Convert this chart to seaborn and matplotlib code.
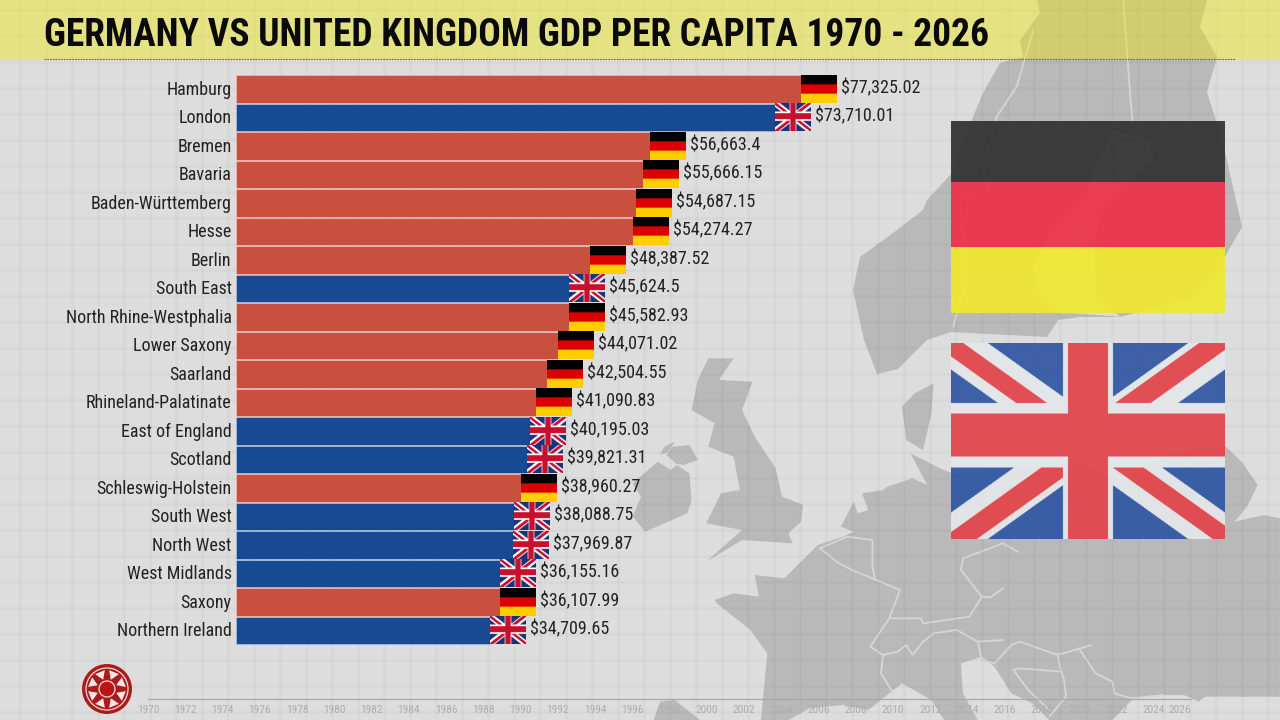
import numpy as np
import pandas as pd
import matplotlib
matplotlib.use("Agg")
import matplotlib.pyplot as plt
from matplotlib.patches import Polygon, Rectangle, Circle
from matplotlib.transforms import ScaledTranslation
import seaborn as sns
import logging

regions = ["Hamburg", "London", "Bremen", "Bavaria", "Baden-Württemberg", "Hesse", "Berlin",
           "South East", "North Rhine-Westphalia", "Lower Saxony", "Saarland",
           "Rhineland-Palatinate", "East of England", "Scotland", "Schleswig-Holstein",
           "South West", "North West", "West Midlands", "Saxony", "Northern Ireland"]
gdp = [77325.02, 73710.01, 56663.4, 55666.15, 54687.15, 54274.27, 48387.52,
       45624.5, 45582.93, 44071.02, 42504.55, 41090.83, 40195.03, 39821.31,
       38960.27, 38088.75, 37969.87, 36155.16, 36107.99, 34709.65]
country = ["DE", "UK", "DE", "DE", "DE", "DE", "DE", "UK", "DE", "DE", "DE", "DE",
           "UK", "UK", "DE", "UK", "UK", "UK", "DE", "UK"]
timeline_years = list(range(1970, 2027, 2))
title = "GERMANY VS UNITED KINGDOM GDP PER CAPITA 1970 - 2026"

sns.set_theme(style="white")
NARROW = ["Roboto Condensed", "Liberation Sans Narrow", "Roboto", "DejaVu Sans"]
plt.rcParams["font.family"] = NARROW
logging.getLogger("matplotlib.font_manager").setLevel(logging.ERROR)

W, H = 1280, 720
fig = plt.figure(figsize=(W / 100, H / 100), dpi=100, facecolor="#dddddd")


def ax_px(x0, y0, x1, y1, **kw):
    return fig.add_axes([x0 / W, 1 - y1 / H, (x1 - x0) / W, (y1 - y0) / H], **kw)


# ---------- backdrop: map, grid, banner, large flags, logo (pixel space) ----------
bg = ax_px(0, 0, W, H, zorder=0)
bg.set_xlim(0, W)
bg.set_ylim(H, 0)
bg.axis("off")
MAP = "#b9b9b9"
BACK = "#dddddd"


def z5(pts):
    return [(620 + x / 2.376, 340 + y / 3) for x, y in pts]


def z6(pts):
    return [(860 + x / 3, 50 + y / 3) for x, y in pts]


map_shapes = [
    z5([(210, 55), (270, 55), (235, 120), (315, 125), (290, 210), (320, 290), (370, 385), (385, 470),
        (435, 495), (430, 545), (400, 580), (410, 610), (290, 600), (205, 665), (290, 570), (205, 550),
        (240, 460), (285, 450), (270, 350), (210, 320), (225, 250), (170, 210), (185, 120)]),
    z5([(90, 365), (120, 390), (135, 375), (165, 400), (170, 480), (160, 520), (60, 575), (30, 530),
        (50, 470), (30, 430)]),
    z5([(125, 320), (165, 315), (185, 360), (150, 375), (135, 372), (110, 345)]),
    z5([(95, 345), (105, 320), (130, 305), (115, 335)]),
    z5([(225, 780), (270, 760), (330, 770), (320, 705), (390, 715), (470, 615), (530, 590), (555, 575),
        (525, 560), (555, 485), (565, 520), (590, 510), (575, 460), (625, 450), (635, 440), (695, 415),
        (730, 435), (690, 340), (760, 385), (790, 400), (900, 385), (1000, 380), (1100, 375), (1200, 420),
        (1300, 340), (1440, 320), (1480, 370), (1515, 435), (1490, 500), (1460, 545), (1530, 525),
        (1568, 535), (1568, 1070), (1390, 1070), (1375, 1085), (1340, 1065), (1290, 1065), (1220, 1075),
        (1170, 1140), (1020, 1140), (980, 1090), (930, 1060), (890, 980), (860, 950), (810, 970),
        (815, 1060), (850, 1140), (770, 1140), (740, 1080), (670, 1030), (590, 1110), (530, 1095),
        (450, 1105), (400, 1140), (335, 1140), (350, 940), (310, 870), (230, 790)]),
    z5([(80, 1140), (95, 1085), (130, 1080), (190, 1140)]),
    z5([(670, 200), (700, 160), (745, 130), (740, 220), (720, 330), (680, 300)]),
    [(1037, 0), (1040, 13), (1020, 40), (1023, 57), (1000, 63), (983, 93), (975, 112), (952, 173), (927, 200),
     (923, 210), (897, 230), (860, 257), (853, 290), (864, 340), (877, 374), (898, 369), (927, 340), (951, 332),
     (1047, 337), (1058, 320), (1080, 317), (1120, 317), (1193, 297), (1223, 260), (1242, 227), (1223, 143),
     (1207, 92), (1217, 57), (1200, 27), (1207, 0)],
]
for s in map_shapes:
    bg.add_patch(Polygon(s, closed=True, fc=MAP, ec="none", zorder=1))
# Gulf of Bothnia
bg.add_patch(Polygon(z6([(760, 240), (870, 270), (880, 330), (800, 400), (730, 480), (700, 580), (710, 740),
                         (780, 800), (640, 790), (600, 790), (530, 720), (520, 650), (560, 560), (680, 430),
                         (700, 350)]), closed=True, fc=BACK, ec="none", zorder=1.1))
borders = [
    z5([(475, 625), (520, 670), (560, 695), (600, 715), (665, 750), (640, 835), (605, 900), (595, 920), (625, 945),
        (620, 1000), (650, 1060), (640, 1100)]),
    z5([(640, 835), (715, 835), (720, 850), (830, 830), (860, 770), (810, 690), (815, 655), (910, 610), (945, 635)]),
    z5([(625, 945), (660, 935), (680, 915), (695, 945), (720, 905), (745, 880), (800, 870), (850, 905), (910, 900)]),
    z5([(860, 770), (880, 772), (910, 745)]),
    z5([(850, 905), (860, 960), (890, 970), (930, 915), (950, 905), (1040, 945), (1120, 915)]),
    z5([(1040, 940), (1045, 980), (1055, 1020), (1060, 1070), (1020, 1130)]),
    z5([(1090, 925), (1130, 1000), (1170, 1025), (1175, 1060), (1215, 1075), (1290, 1065)]),
    z5([(935, 990), (950, 985), (1050, 995)]),
    z5([(935, 990), (970, 1050), (1020, 1110)]),
    z5([(475, 625), (540, 590), (600, 600), (600, 680), (605, 715)]),
    z6([(520, -60), (470, 110), (410, 200), (370, 370), (385, 420), (300, 450), (320, 680), (280, 830)]),
    z6([(790, -150), (810, 130), (820, 240)]),
]
for b in borders:
    xs, ys = zip(*b)
    bg.plot(xs, ys, color="#d6d6d6", lw=1.3, zorder=1.2, solid_capstyle="round")
for x in np.arange(20, W, 26):
    bg.axvline(x, color="black", alpha=0.022, lw=2, zorder=1.5)
for y in np.arange(10, H, 26):
    bg.axhline(y, color="black", alpha=0.022, lw=2, zorder=1.5)
bg.add_patch(Rectangle((0, 0), W, 60, fc=(243 / 255, 235 / 255, 0), alpha=0.4, ec="none", zorder=2))
bg.plot([44, 1235], [58.5, 58.5], color="#6b6a2a", lw=0.8, ls=(0, (1.5, 1)), zorder=2.1)


def de_flag(black, red, yellow, cut1=1 / 3, cut2=2 / 3, h=600):
    a = np.zeros((h, 1, 3))
    a[: int(cut1 * h)] = black
    a[int(cut1 * h): int(cut2 * h)] = red
    a[int(cut2 * h):] = yellow
    return a


def uk_flag(blue, red, white, w=548, h=392):
    u, v = np.meshgrid(np.linspace(-1, 1, w), np.linspace(1, -1, h))
    s = np.abs(u) - np.abs(v)
    a = np.empty((h, w, 3))
    a[:] = blue
    a[np.abs(s) < 0.27] = white
    tl_br = (u * v) < 0
    a[(tl_br & (s > -0.09) & (s < 0.136)) | (~tl_br & (s > -0.19) & (s < 0.07))] = red
    a[(np.abs(u) < 0.182) | ((v > -0.27) & (v < 0.39))] = white
    a[(np.abs(u) < 0.146) | ((v > -0.16) & (v < 0.28))] = red
    return a


big_de = de_flag(np.array([51, 51, 51]) / 255, np.array([237, 50, 72]) / 255, np.array([240, 232, 48]) / 255,
                 0.318, 0.656)
big_uk = uk_flag(np.array([50, 88, 165]) / 255, np.array([226, 70, 75]) / 255, np.array([228, 232, 235]) / 255)
bg.imshow(big_de, extent=(951, 1225, 313, 121), aspect="auto", alpha=0.94, zorder=3, interpolation="nearest")
bg.imshow(big_uk, extent=(951, 1225, 539, 343), aspect="auto", alpha=0.94, zorder=3)

# logo
cx, cy = 107, 689
bg.add_patch(Circle((cx, cy), 25, fc="#a81c1c", ec="none", zorder=4))
bg.add_patch(Circle((cx, cy), 21, fc="none", ec="#f2d9d9", lw=0.9, zorder=4.1))
bg.add_patch(Circle((cx, cy), 8, fc="#bb1414", ec="#f2d9d9", lw=0.9, zorder=4.1))
for ang in np.deg2rad(np.arange(0, 360, 45) + 22.5):
    tip = (cx + 10 * np.cos(ang), cy + 10 * np.sin(ang))
    e1 = (cx + 19 * np.cos(ang - 0.28), cy + 19 * np.sin(ang - 0.28))
    e2 = (cx + 19 * np.cos(ang + 0.28), cy + 19 * np.sin(ang + 0.28))
    bg.add_patch(Polygon([tip, e1, e2], fc="#f5e6e6", ec="none", zorder=4.1))
bg.set_xlim(0, W)
bg.set_ylim(H, 0)

# ---------- bars ----------
df = pd.DataFrame({"region": regions, "gdp": gdp, "country": country})
ax = ax_px(236, 74.75, W, 644.75, zorder=2)
ax.patch.set_alpha(0)
px_per_unit = 565 / 77325.02
sns.barplot(data=df, y="region", x="gdp", hue="country", order=regions, dodge=False, orient="h",
            palette={"DE": "#c94f3e", "UK": "#174a93"}, width=0.96, saturation=1, legend=False,
            edgecolor=(1, 1, 1, 0.35), linewidth=0.6, ax=ax)
xmax = (W - 236) / px_per_unit
small_de = de_flag(np.array([0, 0, 0]) / 255, np.array([221, 0, 0]) / 255, np.array([255, 206, 0]) / 255)
small_uk = uk_flag(np.array([30, 50, 120]) / 255, np.array([200, 16, 46]) / 255, np.array([255, 255, 255]) / 255,
                   w=216, h=168)
flag_w = 36 / px_per_unit
for i, (v, c) in enumerate(zip(gdp, country)):
    ax.imshow(small_de if c == "DE" else small_uk, extent=(v, v + flag_w, i + 0.48, i - 0.48),
              aspect="auto", zorder=3, interpolation="antialiased")
    ax.annotate(f"${v:,}", (v, i), xytext=(40 * 0.72, 0.7), textcoords="offset points", va="center", ha="left",
                fontsize=13.0, color="#222222")
ax.set_xlim(0, xmax)
ax.set_ylim(19.5, -0.5)
ax.set_xlabel("")
ax.set_ylabel("")
ax.set_xticks([])
ax.tick_params(axis="y", length=0, pad=3.2, labelsize=13.0, labelcolor="#222222")
up = ScaledTranslation(0, 0.9 / 72, fig.dpi_scale_trans)
for lab in ax.get_yticklabels():
    lab.set_transform(lab.get_transform() + up)
sns.despine(ax=ax, left=True, bottom=True)

# ---------- timeline ----------
tl = ax_px(148, 690, 1191, 698.5, zorder=1)
tl.patch.set_alpha(0)
tl.set_xlim(1970, 2026)
tl.set_yticks([])
for k in ("top", "left", "right"):
    tl.spines[k].set_visible(False)
tl.spines["bottom"].set_color("#a8a8a8")
tl.spines["bottom"].set_linewidth(0.9)
tl.set_xticks(timeline_years)
tl.set_xticklabels([str(y) for y in timeline_years])
tl.set_xticks(range(1971, 2026, 2), minor=True)
tl.tick_params(axis="x", which="major", direction="out", length=2.5, width=0.6, color="#a8a8a8", labelsize=8.2,
               labelcolor="#adadad", pad=2.5)
tl.tick_params(axis="x", which="minor", direction="in", length=1.5, width=0.5, color="#a8a8a8")
tl.get_xticklabels()[-1].set_ha("right")

fig.text(44 / W, 1 - 31 / H, title, fontsize=27, fontweight="bold", color="#0a0a0a", ha="left", va="center_baseline")

fig.savefig("out.png", dpi=100, facecolor=fig.get_facecolor())
